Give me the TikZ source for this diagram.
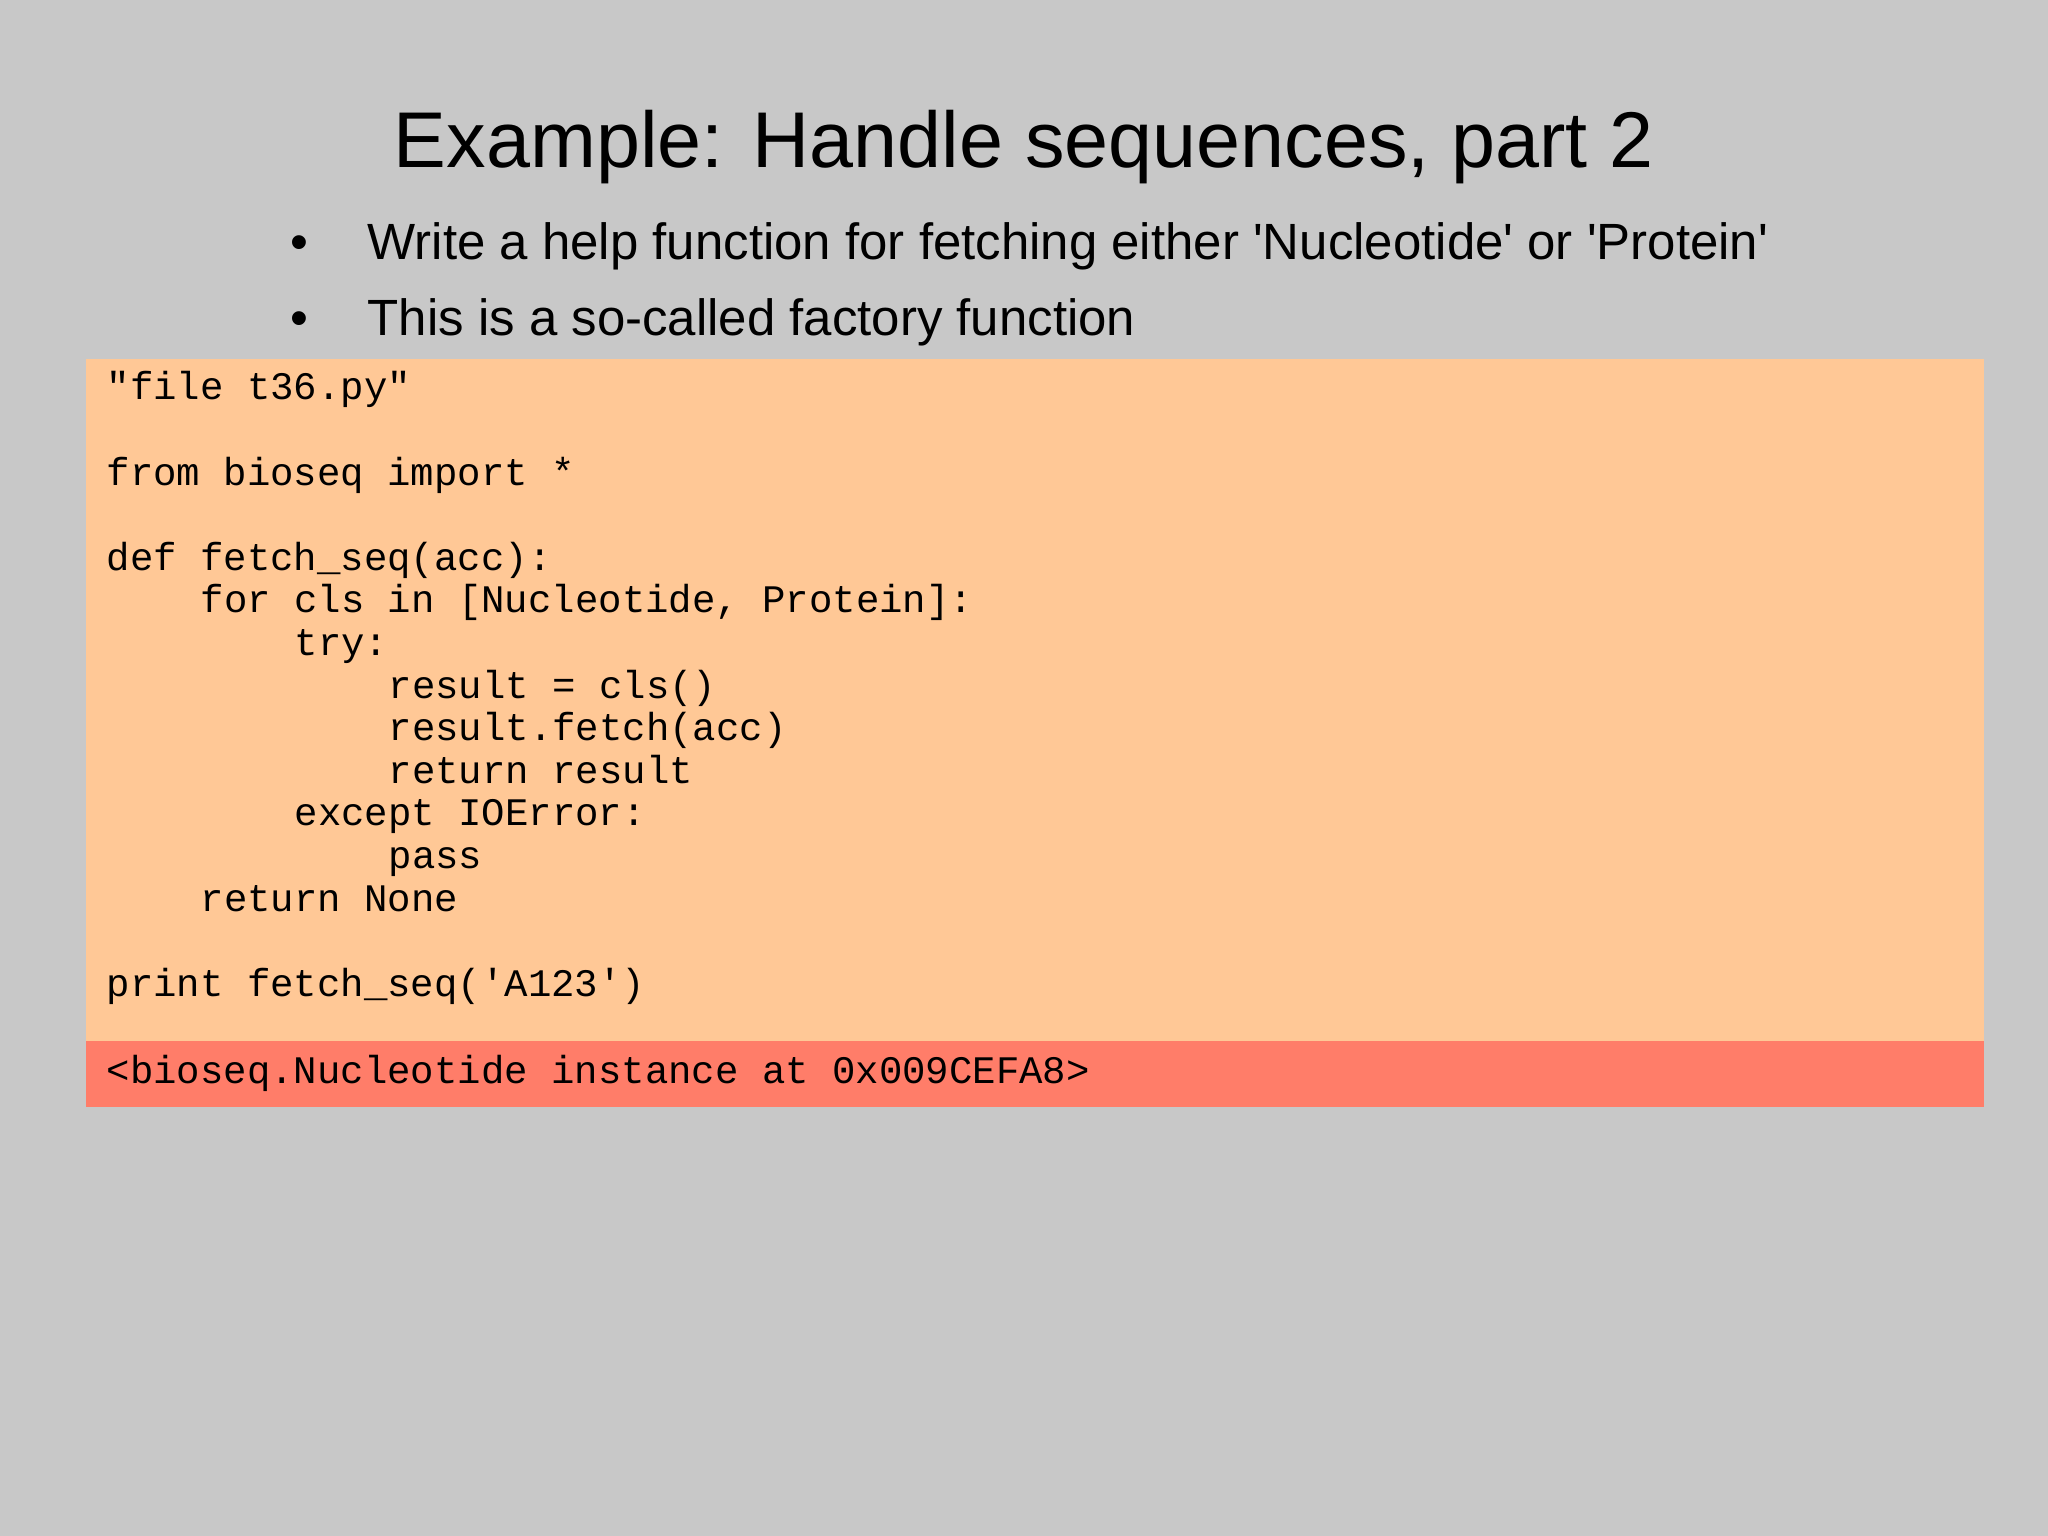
\documentclass[tikz,border=0pt]{standalone}
\usepackage{fontspec}
\setmainfont{Liberation Sans}
\setmonofont{Liberation Mono}
\definecolor{bg}{RGB}{200,200,200}
\definecolor{codebg}{RGB}{255,200,150}
\definecolor{outbg}{RGB}{255,125,105}
\tikzset{code/.style={anchor=base west,inner sep=0pt,font=\fontsize{11.1pt}{12pt}\ttfamily},
 bul/.style={anchor=base west,inner sep=0pt,font=\fontsize{14.5pt}{17pt}\selectfont}}
\newcommand{\sq}{\textquotesingle}
\begin{document}
\begin{tikzpicture}
\useasboundingbox (0,0) rectangle (20.48,-15.36);
\fill[bg] (0,0) rectangle (20.48,-15.36);
\fill[codebg] (0.862,-3.59) rectangle (19.84,-10.41);
\fill[outbg] (0.862,-10.41) rectangle (19.84,-11.07);
\node[anchor=base,inner sep=0pt,font=\fontsize{22.5pt}{27pt}\selectfont] (title) at (10.24,-1.68) {Example: Handle sequences, part 2};
\node[bul] (b1d) at (2.9,-2.6) {•};
\node[bul] (b1) at (3.67,-2.6) {Write a help function for fetching either \sq Nucleotide\sq{} or \sq Protein\sq};
\node[bul] (b2d) at (2.9,-3.36) {•};
\node[bul] (b2) at (3.67,-3.36) {This is a so-called factory function};
\def\L{0.426}
\node[code] (c0) at (1.06,-4.0) {"file t36.py"};
\node[code] (c2) at (1.06,-4.0-2*\L) {from bioseq import *};
\node[code] (c4) at (1.06,-4.0-4*\L) {def fetch\_seq(acc):};
\node[code] (c5) at (2.0,-4.0-5*\L) {for cls in [Nucleotide, Protein]:};
\node[code] (c6) at (2.94,-4.0-6*\L) {try:};
\node[code] (c7) at (3.88,-4.0-7*\L) {result = cls()};
\node[code] (c8) at (3.88,-4.0-8*\L) {result.fetch(acc)};
\node[code] (c9) at (3.88,-4.0-9*\L) {return result};
\node[code] (c10) at (2.94,-4.0-10*\L) {except IOError:};
\node[code] (c11) at (3.88,-4.0-11*\L) {pass};
\node[code] (c12) at (2.0,-4.0-12*\L) {return None};
\node[code] (c14) at (1.06,-4.0-14*\L) {print fetch\_seq(\sq A123\sq)};
\node[code] (out) at (1.06,-10.84) {<bioseq.Nucleotide instance at 0x009CEFA8>};
\end{tikzpicture}
\end{document}
